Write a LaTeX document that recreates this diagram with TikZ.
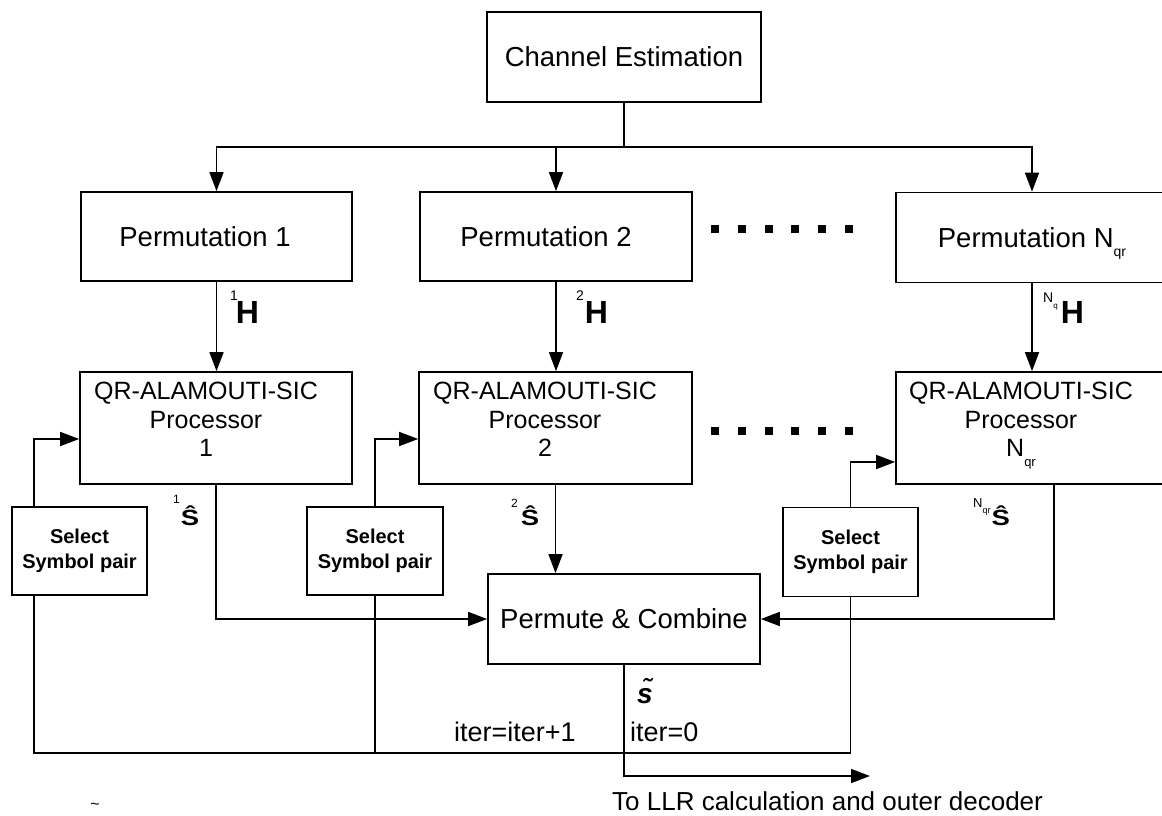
\documentclass[tikz,border=0pt]{standalone}
\usepackage{fontspec}
\setmainfont{Liberation Sans}
\usepackage{graphicx}
\usetikzlibrary{arrows.meta}

% estimated symbol vector (bold S with hat) and permuted channel matrix
\newcommand{\hatS}{{\fontsize{22}{22}\selectfont\bfseries\scalebox{1.25}[1]{\^{S}}}}
\newcommand{\boldH}{{\fontsize{32}{32}\selectfont\bfseries H}}

\begin{document}
\begin{tikzpicture}[x=1pt,y=-1pt,
  box/.style={draw, line width=1.7pt, inner sep=0pt},
  lbl/.style={font=\fontsize{27.5}{32}\selectfont, inner sep=0pt},
  qrtxt/.style={font=\fontsize{25}{28.5}\selectfont, align=center, inner sep=0pt},
  seltxt/.style={font=\bfseries\fontsize{20}{24.5}\selectfont, align=center},
  wire/.style={line width=1.6pt},
  arr/.style={wire, -{Triangle[length=19pt,width=14pt]}},
  sym/.style={inner sep=0pt, anchor=base west}]
\useasboundingbox (0,0) rectangle (1162,816);

% ---- blocks ----
\node[box, lbl, minimum width=274pt, minimum height=90pt] (ce) at (624,57) {Channel Estimation};

\node[box, minimum width=271pt, minimum height=89pt] (p1) at (216.5,236.5) {};
\node[lbl, anchor=base] (p1t) at (205,246) {Permutation 1};
\node[box, minimum width=272pt, minimum height=89pt] (p2) at (556,236.5) {};
\node[lbl, anchor=base] (p2t) at (546,246) {Permutation 2};
\node[box, minimum width=272pt, minimum height=90pt] (pN) at (1032,237.5) {};
\node[lbl, anchor=base] (pNt) at (1032,247) {Permutation N\raisebox{-9pt}{\fontsize{14}{14}\selectfont qr}};

\node[box, minimum width=272pt, minimum height=112pt] (q1) at (216,428) {};
\node[qrtxt, anchor=north] (q1t) at (206,382) {QR-ALAMOUTI-SIC\\Processor\\1};
\node[box, minimum width=273pt, minimum height=112pt] (q2) at (555.5,428) {};
\node[qrtxt, anchor=north] (q2t) at (545,382) {QR-ALAMOUTI-SIC\\Processor\\2};
\node[box, minimum width=272pt, minimum height=112pt] (qN) at (1032,428) {};
\node[qrtxt, anchor=north] (qNt) at (1021,382) {QR-ALAMOUTI-SIC\\Processor\\N\raisebox{-10pt}{\fontsize{13}{13}\selectfont qr}};

\node[box, seltxt, minimum width=135pt, minimum height=88pt] (s1) at (79.5,551) {Select\\Symbol pair};
\node[box, seltxt, minimum width=136pt, minimum height=88pt] (s2) at (375,551) {Select\\Symbol pair};
\node[box, seltxt, minimum width=135pt, minimum height=89pt] (s3) at (850.5,552) {Select\\Symbol pair};

\node[box, lbl, minimum width=272pt, minimum height=90pt] (pc) at (624,619) {Permute \& Combine};

% ---- ellipsis dots between branches ----
\foreach \x in {715,741.8,768.6,795.4,822.2,849}{
  \fill (\x-4,225) rectangle (\x+4,233);
  \fill (\x-4,427) rectangle (\x+4,435);
}

% ---- channel estimate distribution ----
\coordinate (bus) at (624,147);
\draw[wire] (ce.south) -- (bus);
\draw[arr] (bus) -| (p1.north);
\draw[arr] (bus) -| (pN.north);
\draw[arr] (bus -| p2.north) -- (p2.north);

\draw[arr] (p1.south) -- (p1.south |- q1.north);
\draw[arr] (p2.south) -- (p2.south |- q2.north);
\draw[arr] (pN.south) -- (pN.south |- qN.north);

% ---- processor outputs to combiner ----
\draw[arr] (q1.south) |- (pc.west);
\draw[arr] (q2.south) -- (q2.south |- pc.north);
\draw[arr] ([xshift=22pt]qN.south) |- (pc.east);

% ---- output ----
\coordinate (llr) at (870,776);
\draw[arr] (pc.south) |- (llr);

% ---- iteration feedback ----
\coordinate (fbR) at (850.5,753);
\draw[wire] ([xshift=-45.5pt]s1.south) |- (fbR) -- (s3.south);
\draw[wire] (s2.south) -- (s2.south |- fbR);
\draw[arr] ([xshift=-45.5pt]s1.north) |- ([yshift=-11pt]q1.west);
\draw[arr] (s2.north) |- ([yshift=-11pt]q2.west);
\draw[arr] (s3.north) |- ([yshift=-34pt]qN.west);

% ---- signal labels ----
\node[sym] (h1) at (230,323) {\fontsize{14}{14}\selectfont\raisebox{23pt}{1}\hspace{-2pt}\boldH};
\node[sym] (h2) at (576,323) {\fontsize{14}{14}\selectfont\raisebox{23pt}{2}\hspace{1pt}\boldH};
\node[sym] (hN) at (1043,323) {\fontsize{14}{14}\selectfont\raisebox{21pt}{N\raisebox{-6pt}{\fontsize{8}{8}\selectfont q}}\hspace{3pt}\boldH};

\node[sym] (sh1) at (173,525) {\fontsize{12}{12}\selectfont\raisebox{22pt}{1}\hspace{1pt}\hatS};
\node[sym] (sh2) at (511,525) {\fontsize{12}{12}\selectfont\raisebox{18pt}{2}\hspace{3pt}\hatS};
\node[sym] (shN) at (973,525) {\fontsize{13}{13}\selectfont\raisebox{18pt}{N\raisebox{-6pt}{\fontsize{9}{9}\selectfont qr}}\hspace{1pt}\hatS};

\node[sym] (st) at (637,703) {\fontsize{28}{28}\selectfont\bfseries\itshape\~{s}};
\node[sym, font=\fontsize{27}{30}\selectfont] (it1) at (454,741) {iter=iter+1};
\node[sym, font=\fontsize{27}{30}\selectfont] (it0) at (630,741) {iter=0};
\node[sym, font=\fontsize{26}{30}\selectfont] (out) at (612,810) {To LLR calculation and outer decoder};
\node[inner sep=0pt, font=\fontsize{16}{16}\selectfont] (tl) at (95,806) {\textasciitilde};
\end{tikzpicture}
\end{document}
